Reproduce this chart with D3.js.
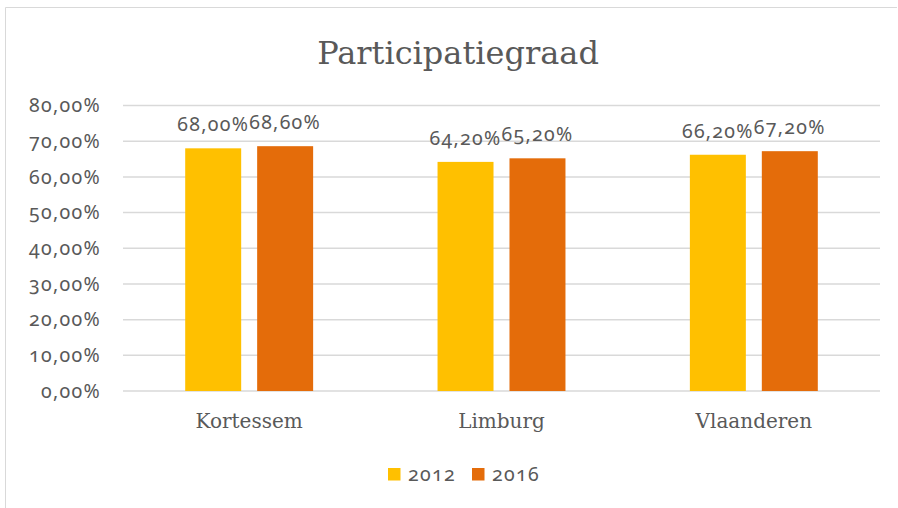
<!DOCTYPE html>
<meta charset="utf-8">
<script src="https://d3js.org/d3.v7.min.js"></script>
<style>
body { margin: 0; background: #fff; }
.num { font-family: "Noto Sans", sans-serif; font-variant-numeric: oldstyle-nums; letter-spacing: 1.3px; fill: #595959; }
.slab { font-family: "DejaVu Serif", serif; fill: #595959; }
</style>
<div id="main"></div>
<script>

const categories = ["Kortessem", "Limburg", "Vlaanderen"];
const series = ["2012", "2016"];
const values2012 = [68.0, 64.2, 66.2];
const values2016 = [68.6, 65.2, 67.2];
const yTicks = [0, 10, 20, 30, 40, 50, 60, 70, 80];
const colors = ["#FFC000", "#E46C0A"];

const width = 898, height = 508;
const margin = {top: 105.5, right: 18, bottom: 117, left: 123};

const svg = d3.select("#main").append("svg")
    .attr("width", width)
    .attr("height", height);

// chart frame (only top and left edge visible)
svg.append("path")
    .attr("d", "M5.5,508V7.5H897")
    .attr("fill", "none")
    .attr("stroke", "#d9d9d9")
    .attr("stroke-width", 1);

svg.append("text")
    .attr("class", "slab")
    .attr("x", 458)
    .attr("y", 64)
    .attr("text-anchor", "middle")
    .attr("font-size", 32)
    .text("Participatiegraad");

const x0 = d3.scaleBand()
    .domain(categories)
    .range([margin.left, width - margin.right])
    .paddingInner(0.493)
    .paddingOuter(0.2465);

const x1 = d3.scaleBand()
    .domain(series)
    .range([0, x0.bandwidth()])
    .paddingInner(0.222);

const y = d3.scaleLinear()
    .domain([0, 80])
    .range([height - margin.bottom, margin.top]);

const fmt = d => d3.format(".2f")(d).replace(".", ",") + "%";

// gridlines
svg.append("g")
  .selectAll("line")
  .data(yTicks)
  .join("line")
    .attr("x1", margin.left)
    .attr("x2", width - margin.right)
    .attr("y1", d => y(d))
    .attr("y2", d => y(d))
    .attr("stroke", "#d9d9d9")
    .attr("stroke-width", 1.5);

// y axis labels
svg.append("g")
  .selectAll("text")
  .data(yTicks)
  .join("text")
    .attr("class", "num")
    .attr("x", 101)
    .attr("y", d => y(d))
    .attr("dy", "0.35em")
    .attr("text-anchor", "end")
    .attr("font-size", 19.5)
    .text(fmt);

const rows = categories.map((c, i) => ({
  cat: c,
  vals: [values2012[i], values2016[i]]
}));

const group = svg.append("g")
  .selectAll("g")
  .data(rows)
  .join("g")
    .attr("transform", d => "translate(" + x0(d.cat) + ",0)");

group.selectAll("rect")
  .data(d => d.vals.map((v, j) => ({s: series[j], v: v, j: j})))
  .join("rect")
    .attr("x", d => x1(d.s))
    .attr("y", d => y(d.v))
    .attr("width", x1.bandwidth())
    .attr("height", d => y(0) - y(d.v))
    .attr("fill", d => colors[d.j]);

group.selectAll("text.lbl")
  .data(d => d.vals.map((v, j) => ({s: series[j], v: v})))
  .join("text")
    .attr("class", "num lbl")
    .attr("x", d => x1(d.s) + x1.bandwidth() / 2)
    .attr("y", d => y(d.v) - 17)
    .attr("text-anchor", "middle")
    .attr("font-size", 19.5)
    .text(d => fmt(d.v));

// category labels
svg.append("g")
  .selectAll("text")
  .data(categories)
  .join("text")
    .attr("class", "slab")
    .attr("x", d => x0(d) + x0.bandwidth() / 2)
    .attr("y", 428)
    .attr("text-anchor", "middle")
    .attr("font-size", 20)
    .text(d => d);

// legend
const legX = [388, 472];
const legend = svg.append("g")
  .selectAll("g")
  .data(series)
  .join("g")
    .attr("transform", (d, i) => "translate(" + legX[i] + ",468)");

legend.append("rect")
    .attr("width", 12.5)
    .attr("height", 12.5)
    .attr("fill", (d, i) => colors[i]);

legend.append("text")
    .attr("class", "num")
    .attr("x", 20)
    .attr("y", 13)
    .attr("font-size", 19.5)
    .text(d => d);

</script>
